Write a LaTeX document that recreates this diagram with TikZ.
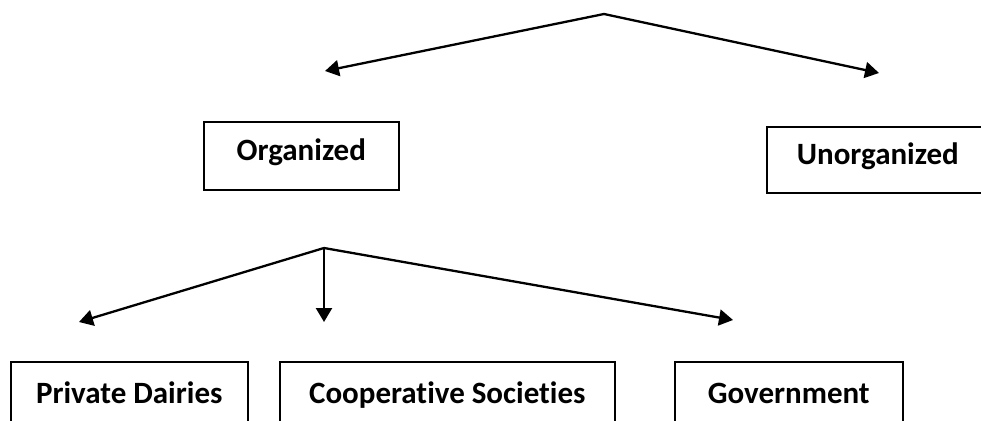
\documentclass[tikz,border=0pt]{standalone}
\usepackage{fontspec}
\setmainfont{Carlito}[Ligatures=NoCommon]
\usetikzlibrary{arrows.meta}

\begin{document}
\begin{tikzpicture}[x=1pt, y=-1pt,
    % Define the style for the boxes
    catbox/.style={
        draw, line width=1.6pt, anchor=north west, inner sep=0pt,
        text height=20pt, text depth=10pt,
        font=\fontsize{31}{36}\selectfont\bfseries
    },
    % Define the style for the branch arrows
    branch/.style={
        line width=2.3pt, -{Triangle[length=14pt, width=16pt]}
    }
]
\useasboundingbox (0,0) rectangle (981,420);
\clip (0,0) rectangle (981,420);

% Define the branch points and arrow ends
\coordinate (top) at (604,14);
\coordinate (orgtip) at (325,71);
\coordinate (unorgtip) at (879,73);
\coordinate (orgfork) at (324,248);
\coordinate (privtip) at (79,322);
\coordinate (cooptip) at (324,322);
\coordinate (govtip) at (733,320);

% Draw the boxes
\node[catbox, minimum width=195, minimum height=68] (org) at (203,121) {Organized};
\node[catbox, minimum width=222, minimum height=66] (unorg) at (766,126) {Unorganized};
\node[catbox, minimum width=237, minimum height=74] (priv) at (10,361) {Private Dairies};
\node[catbox, minimum width=335, minimum height=74] (coop) at (279,361) {Cooperative Societies};
\node[catbox, minimum width=228, minimum height=74] (gov) at (674,361) {Government};

% Draw the branch arrows
\draw[branch] (top) -- (orgtip);
\draw[branch] (top) -- (unorgtip);
\draw[branch] (orgfork) -- (privtip);
\draw[branch] (orgfork) -- (cooptip);
\draw[branch] (orgfork) -- (govtip);

\end{tikzpicture}
\end{document}
